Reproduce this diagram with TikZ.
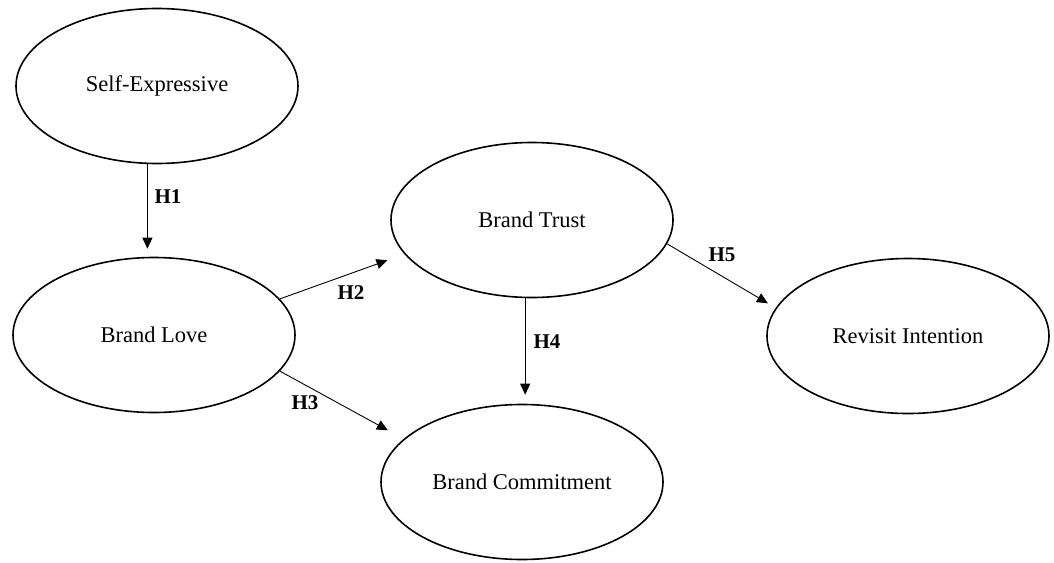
\documentclass[tikz,border=0pt]{standalone}
\usepackage{fontspec}
\setmainfont{Liberation Serif}
\usetikzlibrary{shapes.geometric,arrows.meta}
\begin{document}
\begin{tikzpicture}[x=1pt,y=-1pt,
  construct/.style={ellipse,draw,line width=1.6pt,minimum width=282pt,minimum height=155pt,inner sep=0pt,font=\fontsize{22.5}{26}\selectfont},
  hyp/.style={font=\fontsize{21}{25}\selectfont\bfseries,inner sep=0pt},
  arr/.style={-{Triangle[length=11pt,width=10pt]},line width=0.9pt},
  varr/.style={-{Triangle[length=11pt,width=10pt]},line width=1.1pt}]
\useasboundingbox (0,0) rectangle (1054,562);
\node[construct] (se) at (157,86) {Self-Expressive};
\node[construct] (bl) at (154,335) {Brand Love};
\node[construct] (bt) at (532,220) {Brand Trust};
\node[construct] (ri) at (908,336) {Revisit Intention};
\node[construct] (bc) at (522,482) {Brand Commitment};
\draw[varr,shorten >=8pt] (se.263) -- (se.263 |- bl.north);
\draw[varr,shorten >=9pt] (bt.265) -- (bt.265 |- bc.north);
\draw[arr,shorten >=18pt] (bl.16) -- (bt.195);
\draw[arr,shorten >=18pt] (bl.-16) -- (bc.160);
\draw[arr,shorten >=9pt] (bt.-10) -- (ri.168);
\node[hyp] (h1) at (168,197) {H1};
\node[hyp] (h2) at (351,293) {H2};
\node[hyp] (h3) at (305,403) {H3};
\node[hyp] (h4) at (547,342) {H4};
\node[hyp] (h5) at (722,255) {H5};
\end{tikzpicture}
\end{document}
